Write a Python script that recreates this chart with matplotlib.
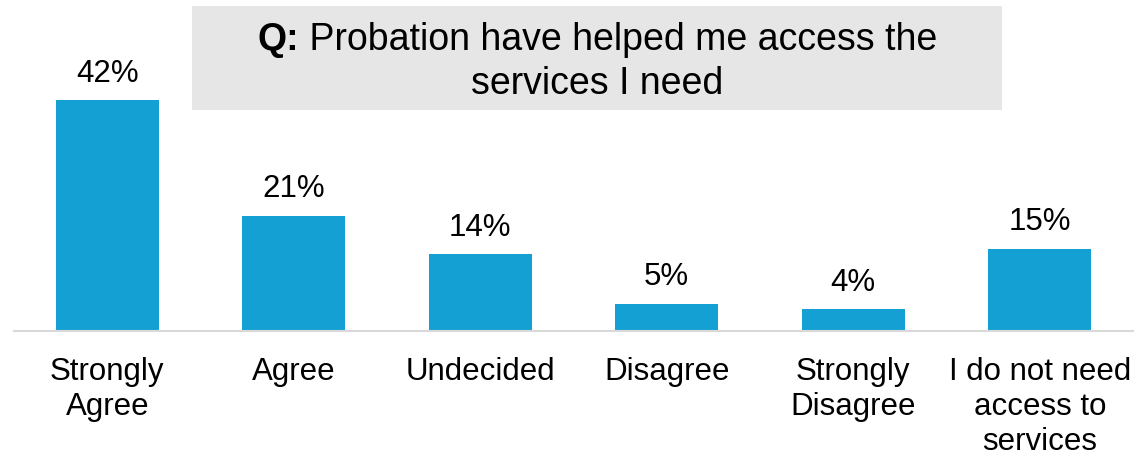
import numpy as np
import matplotlib.pyplot as plt
from matplotlib.patches import Rectangle

plt.rcParams['font.family'] = ['Liberation Sans', 'DejaVu Sans']

# survey responses (% of respondents)
categories = ['Strongly\nAgree', 'Agree', 'Undecided', 'Disagree',
              'Strongly\nDisagree', 'I do not need\naccess to\nservices']
percents = [42, 21, 14, 5, 4, 15]
q_prefix = 'Q:'
q_line1 = ' Probation have helped me access the'
q_line2 = 'services I need'

bar_color = '#15a0d4'
W, H = 1138, 457

fig = plt.figure(figsize=(W / 100, H / 100), dpi=100)
ax = fig.add_axes([14 / W, (H - 331) / H, 1119 / W, 325 / H])

x = np.arange(len(categories))
bars = ax.bar(x, percents, width=0.553, color=bar_color, zorder=2)

for xi, v in zip(x, percents):
    ax.annotate(f'{v}%', (xi, v), xytext=(0, 13), textcoords='offset points',
                ha='center', va='baseline', fontsize=22.5, color='black')

ax.set_xlim(-0.5, len(categories) - 0.5)
ax.set_ylim(0, 325 / 5.5)
ax.set_xticks(x)
ax.set_xticklabels(categories, fontsize=22.5, linespacing=1.2)
ax.tick_params(axis='x', length=0, pad=19)
ax.set_yticks([])
for side in ['left', 'right', 'top']:
    ax.spines[side].set_visible(False)
ax.spines['bottom'].set_color('#d9d9d9')
ax.spines['bottom'].set_linewidth(1.5)

# question box
fig.patches.append(Rectangle((192 / W, (H - 110) / H), 810 / W, 104 / H,
                             transform=fig.transFigure, facecolor='#e6e6e6',
                             edgecolor='none', zorder=0))

# first line: bold "Q:" followed by normal text, centred together
cx = 597 / W
y1 = (H - 50) / H
y2 = (H - 94) / H
t_bold = fig.text(0, y1, q_prefix, fontsize=27, fontweight='bold',
                  ha='left', va='baseline')
t_rest = fig.text(0, y1, q_line1, fontsize=27, ha='left', va='baseline')
fig.canvas.draw()
r = fig.canvas.get_renderer()
wb = t_bold.get_window_extent(r).width / W
wr = t_rest.get_window_extent(r).width / W
x0 = cx - (wb + wr) / 2
t_bold.set_x(x0)
t_rest.set_x(x0 + wb)
fig.text(cx, y2, q_line2, fontsize=27, ha='center', va='baseline')

plt.savefig('out.png', dpi=100)
